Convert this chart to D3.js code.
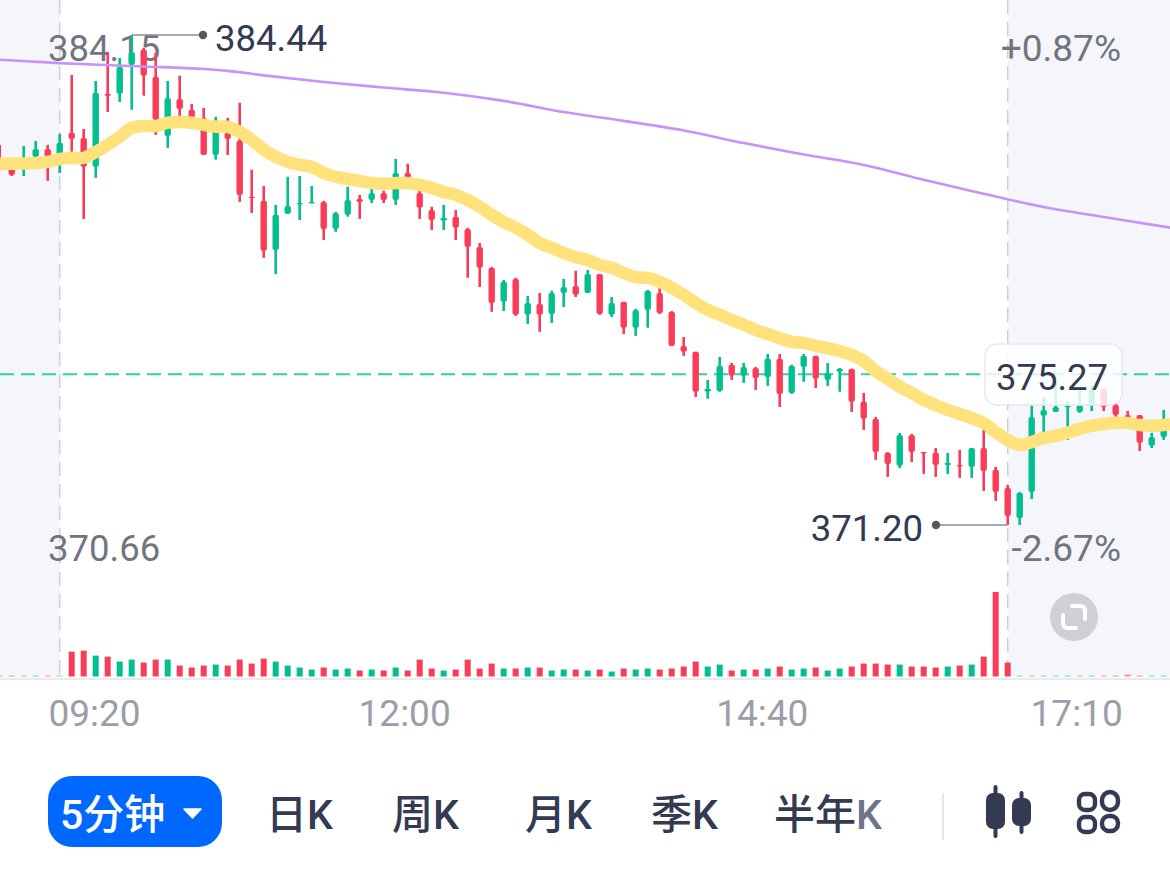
<!DOCTYPE html>
<html>
<head>
<meta charset="utf-8">
<script src="https://cdn.jsdelivr.net/npm/d3@7"></script>
<style>
  html, body { margin: 0; padding: 0; background: #fff; }
  svg { display: block; font-family: Roboto, "Noto Sans CJK SC", sans-serif; }
</style>
</head>
<body>
<script>
// 5 minute candles, one entry per bar, left to right
const opens = [381.01,381.01,380.90,381.15,381.36,381.20,
  381.80,381.66,380.88,382.85,382.85,383.63,384.04,383.31,381.71,382.71,
  382.42,382.20,381.20,381.80,381.58,380.07,379.96,378.63,379.61,379.88,
  379.90,379.93,379.20,379.58,380.01,379.98,380.17,379.98,380.71,380.17,
  379.71,379.42,379.53,379.20,378.71,378.15,377.23,377.85,376.88,377.17,
  376.90,377.47,377.66,377.47,377.98,376.88,377.23,376.53,377.01,377.47,
  376.96,376.04,375.88,374.80,374.82,375.53,375.23,375.44,375.20,375.69,
  374.77,375.47,375.77,375.12,375.34,375.42,374.53,374.07,373.15,372.80,
  373.63,373.17,373.15,372.82,372.82,372.77,373.28,372.69,372.20,371.39,
  372.09,374.15,374.25,374.39,374.25,374.42,374.88,374.44,374.17,374.17,
  373.34,373.58,373.63];
const closes = [380.88,380.66,380.98,381.36,381.15,381.53,
  381.63,380.88,382.88,382.80,383.58,383.98,383.34,382.15,382.74,382.44,
  382.20,381.20,382.09,381.63,380.12,380.04,378.61,379.58,379.82,379.90,
  379.93,379.20,379.63,379.98,379.93,380.17,379.98,380.71,380.58,379.77,
  379.44,379.50,379.23,378.71,378.15,377.20,377.77,376.88,377.20,376.88,
  377.47,377.63,377.42,377.98,376.90,377.20,376.53,377.01,377.53,376.93,
  376.04,375.88,374.80,374.88,375.50,375.23,375.47,375.17,375.69,374.74,
  375.50,375.77,375.15,375.31,375.42,374.53,374.07,373.17,372.85,373.63,
  373.17,373.15,372.82,372.88,372.80,373.28,372.66,372.09,371.44,372.07,
  374.12,374.31,374.39,374.42,374.44,374.85,374.39,374.17,374.04,373.42,
  373.58,374.04,374.04];
const highs = [381.47,381.12,381.44,381.58,381.47,381.77,
  383.36,381.90,383.20,383.98,383.82,384.44,384.09,383.96,383.20,383.34,
  382.58,382.47,382.23,382.20,382.61,380.80,380.36,379.85,380.61,380.63,
  380.36,379.96,379.66,380.34,380.12,380.28,380.23,381.09,380.96,380.25,
  379.80,379.85,379.71,379.23,378.82,378.17,377.82,377.88,377.39,377.47,
  377.53,377.85,378.07,378.09,377.98,377.36,377.23,377.04,377.55,377.61,
  376.98,376.28,375.88,375.12,375.74,375.58,375.58,375.47,375.82,375.82,
  375.53,375.82,375.77,375.58,375.44,375.42,374.77,374.12,373.17,373.69,
  373.66,373.17,373.28,373.15,373.23,373.28,373.77,372.77,372.28,372.09,
  374.44,374.66,375.04,374.55,374.90,374.98,374.90,374.50,374.28,374.17,
  373.69,374.31,374.25];
const lows = [380.80,380.63,380.63,380.93,380.50,380.71,
  381.28,379.47,380.58,382.36,382.63,382.42,382.80,381.74,381.39,382.20,
  382.07,381.20,381.07,381.20,379.93,379.63,378.42,377.98,379.61,379.44,
  379.90,378.90,379.12,379.53,379.47,379.90,379.90,379.85,380.53,379.47,
  379.17,379.17,378.90,377.88,377.63,376.96,376.98,376.85,376.63,376.42,
  376.66,377.09,377.36,377.47,376.88,376.82,376.36,376.31,376.53,376.90,
  376.04,375.77,374.66,374.61,374.80,375.12,375.04,374.85,374.96,374.39,
  374.74,375.07,374.90,374.96,374.80,374.25,373.77,372.96,372.50,372.74,
  372.90,372.58,372.50,372.58,372.47,372.47,372.12,371.85,371.20,371.20,
  371.90,373.71,374.25,373.50,374.23,374.28,374.28,374.12,374.04,373.20,
  373.28,373.50,373.50];
const volumes = [1,1,1,1,1,1,
  25,26,21,20,15,17,14,17,17,11,9,11,12,11,17,13,18,15,11,9,7,9,7,8,6,7,6,9,6,17,
  8,6,7,17,8,13,8,8,9,9,6,7,7,6,7,5,8,7,8,7,8,10,15,10,12,6,7,7,8,10,7,8,9,6,8,10,
  13,13,12,12,10,10,9,10,11,12,20,85,14,
  1,1,1,1,1,1,1,1,1,2,1,1,1,1];
// yellow average, one value per bar
const maFast = [380.96,380.96,380.97,380.98,381.01,381.09,
  381.12,381.12,381.28,381.47,381.69,381.93,381.98,381.98,382.07,382.09,
  382.07,382.01,381.96,381.96,381.82,381.61,381.34,381.15,381.01,380.93,
  380.88,380.71,380.61,380.55,380.50,380.44,380.42,380.44,380.44,380.39,
  380.31,380.20,380.12,379.98,379.80,379.58,379.39,379.23,379.04,378.82,
  378.69,378.55,378.44,378.36,378.23,378.15,378.01,377.90,377.88,377.77,
  377.61,377.42,377.20,377.01,376.88,376.74,376.61,376.47,376.36,376.25,
  376.15,376.12,376.04,375.98,375.90,375.80,375.63,375.36,375.15,374.93,
  374.77,374.58,374.44,374.31,374.20,374.09,373.96,373.71,373.50,373.36,
  373.44,373.55,373.61,373.69,373.80,373.88,373.93,373.96,373.96,373.90,
  373.88,373.90,373.93];
const maSlowBars = [0,5,12,17,19,22,27,32,37,42,47,52,57,62,67,72,77,82,84,87,92,98];
const maSlow = [383.77,383.68,383.59,383.52,383.47,383.35,383.17,383.02,382.88,382.66,382.36,
  382.12,381.86,381.52,381.21,380.93,380.53,380.15,380.00,379.79,379.52,379.21];

const timeLabels = ["09:20", "12:00", "14:40", "17:10"];
const tabs = ["日", "周", "月", "季", "半年"];
const sessionBars = [5, 84];
const lastPrice = 375.27, maxPrice = 384.44, minPrice = 371.20;

const RED = "#fb3c58", GREEN = "#03bf8d", DARK = "#333a52", GREY = "#72757f";
const width = 1170, height = 871, volBase = 676.5;

const x = d3.scaleLinear().domain([0, opens.length - 1]).range([-0.3, 1175.7]);
const y = d3.scaleLinear().domain([maxPrice, minPrice]).range([35, 525]);
const v = d3.scaleLinear().domain([0, 85]).range([volBase, 592]);

const svg = d3.select("body").append("svg").attr("width", width).attr("height", height);
const barColor = i => closes[i] < opens[i] ? RED : GREEN;

// grey pre/post market zones
svg.append("rect").attr("width", x(sessionBars[0])).attr("height", volBase).attr("fill", "#f5f6fb");
svg.append("rect").attr("x", x(sessionBars[1])).attr("width", width - x(sessionBars[1])).attr("height", volBase).attr("fill", "#f5f6fb");
svg.selectAll(".session").data(sessionBars).join("line")
  .attr("x1", d => x(d)).attr("x2", d => x(d)).attr("y1", 0).attr("y2", volBase)
  .attr("stroke", "#cfd0d6").attr("stroke-width", 1.5).attr("stroke-dasharray", "14 8");
svg.append("rect").attr("y", 678).attr("width", width).attr("height", 2).attr("fill", "#eaeaee");

// range labels sit under the candles
const txt = (s, px, py, size, fill, anchor) => svg.append("text").text(s)
  .attr("x", px).attr("y", py).attr("font-size", size).attr("fill", fill)
  .attr("text-anchor", anchor || "start");
txt("384.15", 48, 61, 36.5, GREY);
txt("370.66", 48, 561, 36.5, GREY);
txt("+0.87%", 1121, 61, 37, GREY, "end");
txt("-2.67%", 1121, 561, 37, GREY, "end");

svg.append("line").attr("x1", 0).attr("x2", width).attr("y1", y(lastPrice)).attr("y2", y(lastPrice))
  .attr("stroke", "#2dd4a7").attr("stroke-width", 2).attr("stroke-dasharray", "14 7");

// volume
svg.selectAll(".vol").data(volumes).join("rect")
  .attr("x", (d, i) => x(i) - 3).attr("width", 6)
  .attr("y", d => v(d)).attr("height", d => volBase - v(d))
  .attr("fill", (d, i) => barColor(i)).attr("opacity", d => d < 3 ? 0.55 : 1);

// candles
const candles = svg.append("g").selectAll("g").data(opens).join("g").attr("fill", (d, i) => barColor(i));
candles.append("rect")
  .attr("x", (d, i) => x(i) - 1.3).attr("width", 2.6)
  .attr("y", (d, i) => y(highs[i])).attr("height", (d, i) => y(lows[i]) - y(highs[i]));
candles.append("rect")
  .attr("x", (d, i) => x(i) - 3.2).attr("width", 6.4).attr("rx", 2)
  .attr("y", (d, i) => Math.min(y(opens[i]), y(closes[i])))
  .attr("height", (d, i) => Math.max(1.5, Math.abs(y(opens[i]) - y(closes[i]))));

// moving averages
svg.append("path")
  .attr("d", d3.line().x((d, i) => x(maSlowBars[i])).y(d => y(d)).curve(d3.curveMonotoneX)(maSlow))
  .attr("fill", "none").attr("stroke", "#c792fa").attr("stroke-width", 2.6);
svg.append("path")
  .attr("d", d3.line().x((d, i) => x(i)).y(d => y(d)).curve(d3.curveCatmullRom)(maFast))
  .attr("fill", "none").attr("stroke", "#ffe27c").attr("stroke-width", 12.5)
  .attr("stroke-linejoin", "round");

// high / low callouts
const callout = (bar, price, dotX, label, labelX, anchor) => {
  svg.append("line").attr("x1", x(bar)).attr("x2", dotX).attr("y1", y(price)).attr("y2", y(price))
    .attr("stroke", "#8d8f96").attr("stroke-width", 1.5);
  svg.append("circle").attr("cx", dotX).attr("cy", y(price)).attr("r", 4.2).attr("fill", "#55585f");
  txt(label, labelX, y(price) + 16, 36.5, DARK, anchor);
};
callout(11, maxPrice, 203, "384.44", 215);
callout(84, minPrice, 936, "371.20", 923, "end");

// current price box
svg.append("rect").attr("x", 985).attr("y", 344).attr("width", 137).attr("height", 61).attr("rx", 12)
  .attr("fill", "#fff").attr("fill-opacity", 0.82).attr("stroke", "#e8e9ee").attr("stroke-width", 1.5);
txt(lastPrice.toFixed(2), 1052, 390, 36.5, DARK, "middle");

// expand button
const expand = svg.append("g").attr("transform", "translate(1074,617)");
expand.append("circle").attr("r", 24).attr("fill", "#cfd0d5");
expand.append("path").attr("d", "M-2,-11 H6 Q11,-11 11,-6 V2 M2,11 H-6 Q-11,11 -11,6 V-2")
  .attr("fill", "none").attr("stroke", "#fff").attr("stroke-width", 4).attr("stroke-linecap", "round");

// time axis
const axis = d3.axisBottom(x).tickValues([7.86, 33.7, 63.5, 89.7])
  .tickFormat((d, i) => timeLabels[i]).tickSize(0);
const axisG = svg.append("g").attr("transform", "translate(0,680)").call(axis);
axisG.select(".domain").remove();
axisG.selectAll("text").attr("y", 46).attr("dy", 0).attr("font-size", 37)
  .attr("font-family", "Roboto").attr("fill", "#9b9ea8");

// period tabs
svg.append("rect").attr("x", 48).attr("y", 776).attr("width", 174).attr("height", 71).attr("rx", 24).attr("fill", "#0068ff");
txt("5分钟", 60, 829, 41, "#fff").attr("font-weight", 500);
svg.append("path").attr("d", "M184,809 H201 L192.5,818 Z").attr("fill", "#fff").attr("stroke", "#fff")
  .attr("stroke-width", 1.5).attr("stroke-linejoin", "round");
const tabX = [266, 392, 525, 651, 774];
tabs.forEach((t, i) => {
  const label = txt(t, tabX[i], 829, 41, DARK).attr("font-weight", 500);
  label.append("tspan").text("K").attr("fill", i === 4 ? "#6f7488" : DARK);
});
svg.append("rect").attr("x", 942).attr("y", 793).attr("width", 2).attr("height", 47).attr("fill", "#e6e6ea");

// chart type icon
[[995.5, 785, 838, 793, 829, 986], [1021.5, 791, 834, 798, 826, 1012]].forEach(c => {
  svg.append("rect").attr("x", c[0] - 2).attr("width", 4).attr("y", c[1]).attr("height", c[2] - c[1]).attr("rx", 2).attr("fill", DARK);
  svg.append("rect").attr("x", c[5]).attr("width", 19).attr("y", c[3]).attr("height", c[4] - c[3]).attr("rx", 7).attr("fill", DARK);
});
// grid icon
[[1079, 794, 16, 16, 6], [1102, 792, 16, 18, 8], [1079, 817, 16, 15, 6], [1102, 816, 16, 15, 7]].forEach(c => {
  svg.append("rect").attr("x", c[0]).attr("y", c[1]).attr("width", c[2]).attr("height", c[3]).attr("rx", c[4])
    .attr("fill", "none").attr("stroke", DARK).attr("stroke-width", 4.4);
});
</script>
</body>
</html>
